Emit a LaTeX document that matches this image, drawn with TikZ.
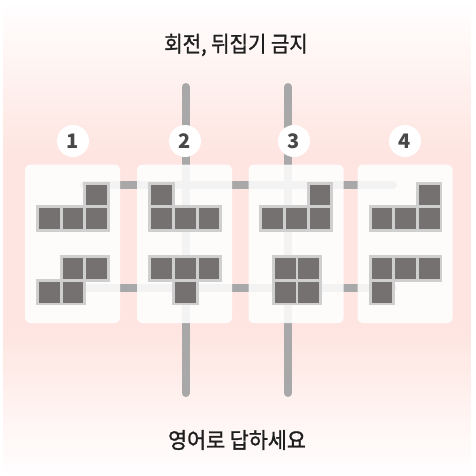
\documentclass[tikz,border=0pt]{standalone}
\usepackage{fontspec}
\setmainfont{Noto Sans CJK KR}
\newfontfamily\krtitle{Noto Sans CJK KR}[FakeBold=1.2]
\usetikzlibrary{calc}
\definecolor{pinkbg}{RGB}{254,229,225}
\definecolor{gridgray}{RGB}{168,168,168}
\definecolor{celldark}{RGB}{117,113,112}
\definecolor{cellrim}{RGB}{207,207,207}
\definecolor{numgray}{RGB}{72,72,72}
\definecolor{textdark}{RGB}{30,30,30}
\tikzset{
  panelbox/.style={rectangle, rounded corners=5pt, fill=white, fill opacity=0.87, minimum width=95pt, minimum height=158.5pt, inner sep=0pt},
  numcirc/.style={circle, fill=white, minimum size=32pt, inner sep=0pt, text=numgray, font=\fontsize{20}{20}\selectfont\bfseries},
  gridline/.style={draw=gridgray, line width=8pt, line cap=round},
  titletext/.style={text=textdark, font=\fontsize{22}{26}\krtitle, inner sep=0pt},
}
\newcommand{\cellrims}[3]{\fill[cellrim] ({#1+#2*23.6-13.3},{#3-13.3}) rectangle ({#1+#2*23.6+13.3},{#3+13.3});}
\newcommand{\celldarks}[3]{\fill[celldark] ({#1+#2*23.6-10.4},{#3-10.4}) rectangle ({#1+#2*23.6+10.4},{#3+10.4});}
\begin{document}
\begin{tikzpicture}[x=1pt,y=-1pt]
\useasboundingbox (0,0) rectangle (476,475);
\fill[white] (0,0) rectangle (476,475);
% vertical gradient background made of thin strips
\foreach \i in {0,...,95}{
  \pgfmathsetmacro{\yy}{\i*5}
  \pgfmathsetmacro{\pct}{min(100,max(0,min(\yy/150*100,(475-\yy)/145*100)))}
  \fill[pinkbg!\pct!white] (3,\yy) rectangle (471,{\yy+5.3});
}
% grid lines
\draw[gridline] (185.5,87) -- (185.5,393);
\draw[gridline] (288,87) -- (288,393);
\draw[gridline] (84,185) -- (393,185);
\draw[gridline] (84,288) -- (393,288);
% panels
\node[panelbox] (p1) at (72.5,243.8) {};
\node[panelbox] (p2) at (184.5,243.8) {};
\node[panelbox] (p3) at (296,243.8) {};
\node[panelbox] (p4) at (405,243.8) {};
% numbers
\node[numcirc] (n1) at (73,141) {1};
\node[numcirc] (n2) at (185,141) {2};
\node[numcirc] (n3) at (294,141) {3};
\node[numcirc] (n4) at (405,141) {4};
% cells
\def\ra{195}\def\rb{218.6}\def\rc{268.5}\def\rd{292.1}
\foreach \m in {\cellrims,\celldarks}{
  % panel 1
  \m{73}{1}{\ra}\m{73}{-1}{\rb}\m{73}{0}{\rb}\m{73}{1}{\rb}
  \m{73}{0}{\rc}\m{73}{1}{\rc}\m{73}{-1}{\rd}\m{73}{0}{\rd}
  % panel 2
  \m{185.3}{-1}{\ra}\m{185.3}{-1}{\rb}\m{185.3}{0}{\rb}\m{185.3}{1}{\rb}
  \m{185.3}{-1}{\rc}\m{185.3}{0}{\rc}\m{185.3}{1}{\rc}\m{185.3}{0}{\rd}
  % panel 3
  \m{296.3}{1}{\ra}\m{296.3}{-1}{\rb}\m{296.3}{0}{\rb}\m{296.3}{1}{\rb}
  \m{297}{-0.5}{\rc}\m{297}{0.5}{\rc}\m{297}{-0.5}{\rd}\m{297}{0.5}{\rd}
  % panel 4
  \m{405.5}{1}{\ra}\m{405.5}{-1}{\rb}\m{405.5}{0}{\rb}\m{405.5}{1}{\rb}
  \m{405.5}{-1}{\rc}\m{405.5}{0}{\rc}\m{405.5}{1}{\rc}\m{405.5}{-1}{\rd}
}
% texts
\node[titletext] (title) at (236,45) {\scalebox{0.91}[1]{회전, 뒤집기 금지}};
\node[titletext] (footer) at (237,440) {\scalebox{0.94}[1]{영어로 답하세요}};
\end{tikzpicture}
\end{document}
